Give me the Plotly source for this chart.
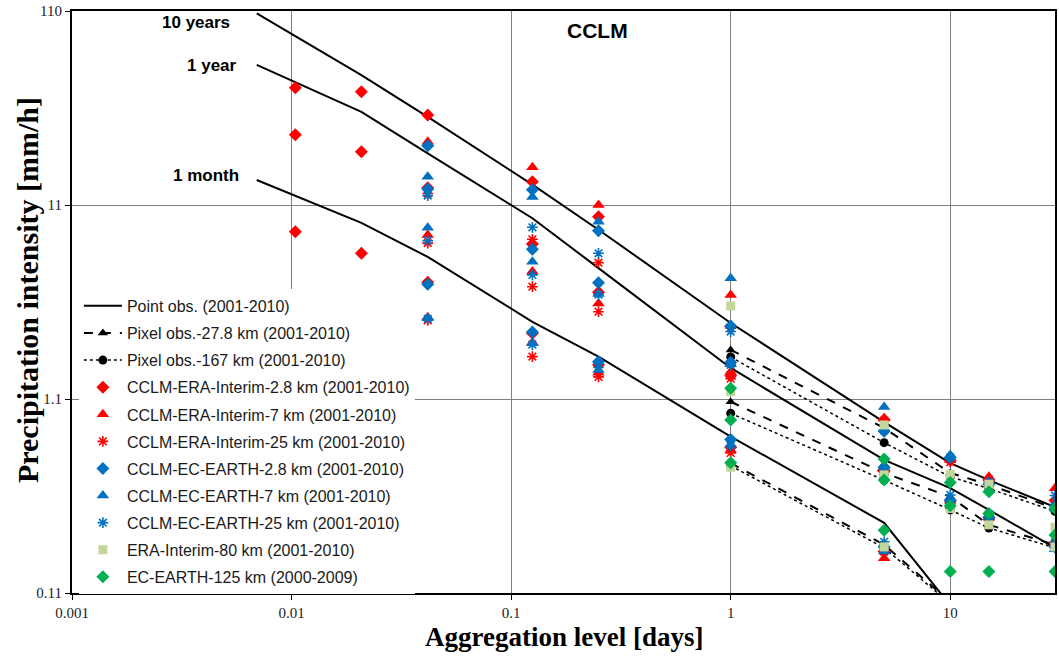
import plotly.graph_objects as go

# ---------------- data ----------------
x_point = [0.00694, 0.0208, 0.0417, 0.125, 0.25, 1, 5, 10, 15, 30]
point_10y = [107, 51.4, 31.3, 14.0, 8.2, 2.71, 0.836, 0.514, 0.42, 0.305]
point_1y = [58, 33.2, 20.3, 9.4, 5.2, 1.59, 0.534, 0.382, 0.295, 0.188]
point_1m = [14.8, 8.9, 5.94, 2.75, 1.82, 0.704, 0.253, 0.095, None, None]

x_pix = [1, 5, 10, 15, 30]
pix28_10y = [1.97, 0.78, 0.457, 0.398, 0.30]
pix28_1y = [1.065, 0.457, 0.345, 0.247, 0.195]
pix28_1m = [0.514, 0.195, 0.099, None, None]
pix167_10y = [1.81, 0.655, 0.437, 0.38, 0.29]
pix167_1y = [0.928, 0.42, 0.295, 0.238, 0.188]
pix167_1m = [0.498, 0.188, 0.097, None, None]

x_model = [0.0104, 0.0208, 0.0417, 0.125, 0.25, 1, 5, 10, 15, 30]
era28_10y = [44.3, 42.2, 32.0, 14.5, 9.58, 2.6, 0.86, 0.53, 0.42, 0.33]
era28_1y = [25.3, 20.7, 13.5, 6.92, 3.9, 1.45, 0.47, 0.33, 0.27, 0.20]
era28_1m = [8.0, 6.2, 4.4, 2.40, 1.65, 0.62, 0.18, None, None, None]

era7_10y = [None, None, 23.3, 17.2, 11.0, 3.78, 0.875, 0.535, 0.437, 0.381]
era7_1y = [None, None, 7.7, 4.99, 3.42, 1.52, 0.48, 0.33, 0.27, 0.20]
era7_1m = [None, None, 2.9, 2.15, 1.5, 0.60, 0.166, None, None, None]

era25_10y = [None, None, 12.6, 7.32, 5.55, 2.55, 0.85, 0.52, 0.42, 0.30]
era25_1y = [None, None, 7.0, 4.17, 3.10, 1.40, 0.46, 0.32, 0.26, 0.19]
era25_1m = [None, None, 2.8, 1.82, 1.43, 0.58, 0.18, None, None, None]

ec28_10y = [None, None, 22.2, 13.2, 8.11, 2.62, 0.75, 0.55, 0.40, 0.31]
ec28_1y = [None, None, 13.3, 6.5, 4.37, 1.70, 0.49, 0.33, 0.27, 0.19]
ec28_1m = [None, None, 4.3, 2.44, 1.71, 0.68, 0.19, None, None, None]

ec7_10y = [None, None, 15.4, 12.1, 9.02, 4.61, 1.00, 0.566, 0.41, 0.30]
ec7_1y = [None, None, 8.4, 5.61, 3.83, 1.66, 0.50, 0.34, 0.275, 0.185]
ec7_1m = [None, None, 2.87, 2.13, 1.55, 0.64, 0.18, None, None, None]

ec25_10y = [None, None, 12.3, 8.44, 6.2, 2.45, 0.76, 0.55, 0.41, 0.35]
ec25_1y = [None, None, 7.2, 4.8, 3.8, 1.65, 0.48, 0.352, 0.28, 0.20]
ec25_1m = [None, None, 2.85, 2.1, 1.6, 0.63, 0.202, None, None, None]

x_gcm = [1, 5, 10, 15, 30]
erai80_10y = [3.32, 0.808, 0.45, 0.40, 0.24]
erai80_1y = [1.20, 0.447, 0.30, 0.247, 0.19]
erai80_1m = [0.49, 0.19, None, None, None]

ecearth125_10y = [1.25, 0.54, 0.408, 0.366, 0.30]
ecearth125_1y = [0.857, 0.421, 0.31, 0.283, 0.219]
ecearth125_1m = [0.516, 0.232, 0.142, 0.142, 0.142]

RED = "#FF0000"
BLUE = "#0070C0"
GREEN = "#00B050"
SQ = "#C3D69B"


def joined(xs, series_list):
    xx, yy = [], []
    for i, s in enumerate(series_list):
        if i:
            xx.append(None)
            yy.append(None)
        xx += list(xs)
        yy += list(s)
    return xx, yy


fig = go.Figure()
lg = 0


def add(name, xs, series_list, mode, line=None, marker=None):
    global lg
    lg += 1
    xx, yy = joined(xs, series_list)
    fig.add_trace(go.Scatter(x=xx, y=yy, mode=mode, name=name, line=line,
                             marker=marker, legendgroup="g%d" % lg,
                             connectgaps=False, showlegend=True))


add("Point obs. (2001-2010)", x_point, [point_10y, point_1y, point_1m], "lines",
    line=dict(color="black", width=2))
add("Pixel obs.-27.8 km (2001-2010)", x_pix, [pix28_10y, pix28_1y, pix28_1m], "lines+markers",
    line=dict(color="black", width=2, dash="dash"),
    marker=dict(symbol="triangle-up", size=9, color="black"))
add("Pixel obs.-167 km (2001-2010)", x_pix, [pix167_10y, pix167_1y, pix167_1m], "lines+markers",
    line=dict(color="black", width=1.5, dash="dot"),
    marker=dict(symbol="circle", size=9, color="black"))


def add_markers(name, xs, series_list, marker):
    global lg
    lg += 1
    xx, yy = [], []
    for s in series_list:
        xx += list(xs)
        yy += list(s)
    fig.add_trace(go.Scatter(x=xx, y=yy, mode="markers", name=name, marker=marker,
                             legendgroup="g%d" % lg))


add_markers("CCLM-ERA-Interim-2.8 km (2001-2010)", x_model, [era28_10y, era28_1y, era28_1m],
            dict(symbol="diamond", size=10, color=RED))
add_markers("CCLM-ERA-Interim-7 km (2001-2010)", x_model, [era7_10y, era7_1y, era7_1m],
            dict(symbol="triangle-up", size=11, color=RED))
add_markers("CCLM-ERA-Interim-25 km (2001-2010)", x_model, [era25_10y, era25_1y, era25_1m],
            dict(symbol="asterisk-open", size=9, color=RED, line=dict(color=RED, width=1.6)))
add_markers("CCLM-EC-EARTH-2.8 km (2001-2010)", x_model, [ec28_10y, ec28_1y, ec28_1m],
            dict(symbol="diamond", size=10, color=BLUE))
add_markers("CCLM-EC-EARTH-7 km (2001-2010)", x_model, [ec7_10y, ec7_1y, ec7_1m],
            dict(symbol="triangle-up", size=11, color=BLUE))
add_markers("CCLM-EC-EARTH-25 km (2001-2010)", x_model, [ec25_10y, ec25_1y, ec25_1m],
            dict(symbol="asterisk-open", size=9, color=BLUE, line=dict(color=BLUE, width=1.6)))
add_markers("ERA-Interim-80 km (2001-2010)", x_gcm, [erai80_10y, erai80_1y, erai80_1m],
            dict(symbol="square", size=9, color=SQ))
add_markers("EC-EARTH-125 km (2000-2009)", x_gcm, [ecearth125_10y, ecearth125_1y, ecearth125_1m],
            dict(symbol="diamond", size=10, color=GREEN))

serif = "Liberation Serif, Times New Roman, serif"
sans = "Liberation Sans, Arial, sans-serif"

fig.update_layout(
    width=1059, height=660,
    margin=dict(l=72, r=2, t=11, b=67),
    paper_bgcolor="white", plot_bgcolor="white",
    showlegend=True,
    legend=dict(x=0.007, y=0.5224, xanchor="left", yanchor="top",
                bgcolor="white", borderwidth=0,
                font=dict(family=sans, size=16, color="#1a1a1a"),
                traceorder="grouped", tracegroupgap=3.3, itemwidth=38),
    xaxis=dict(type="log", range=[-3, 1.4771], tickvals=[0.001, 0.01, 0.1, 1, 10],
               ticktext=["0.001", "0.01", "0.1", "1", "10"],
               showgrid=True, gridcolor="#808080", gridwidth=1,
               showline=True, linecolor="black", linewidth=2, mirror=True,
               ticks="outside", ticklen=5, tickcolor="black",
               tickfont=dict(family=serif, size=15, color="#222"), zeroline=False),
    yaxis=dict(type="log", range=[-0.958607, 2.041393], tickvals=[0.11, 1.1, 11, 110],
               ticktext=["0.11", "1.1", "11", "110"],
               showgrid=True, gridcolor="#808080", gridwidth=1,
               showline=True, linecolor="black", linewidth=2, mirror=True,
               ticks="outside", ticklen=5, tickcolor="black",
               tickfont=dict(family=serif, size=15, color="#222"), zeroline=False),
)

annotations = [
    dict(text="<b>10 years</b>", x=232, y=22, xanchor="right"),
    dict(text="<b>1 year</b>", x=239, y=65, xanchor="right"),
    dict(text="<b>1 month</b>", x=241, y=175, xanchor="right"),
]
for a in annotations:
    fig.add_annotation(text=a["text"], xref="paper", yref="paper",
                       x=(a["x"] - 72) / 985, y=(593 - a["y"]) / 582,
                       xanchor=a["xanchor"], yanchor="middle", showarrow=False,
                       font=dict(family=sans, size=17, color="black"))
fig.add_annotation(text="<b>CCLM</b>", xref="paper", yref="paper",
                   x=(599 - 72) / 985, y=(593 - 31) / 582, xanchor="center", yanchor="middle",
                   showarrow=False, font=dict(family=sans, size=21, color="black"))
fig.add_annotation(text="<b>Aggregation level [days]</b>", xref="paper", yref="paper",
                   x=(565 - 72) / 985, y=(593 - 637) / 582, xanchor="center", yanchor="middle",
                   showarrow=False, font=dict(family=serif, size=27, color="black"))
fig.add_annotation(text="<b>Precipitation intensity [mm/h]</b>", xref="paper", yref="paper",
                   x=(27 - 72) / 985, y=(593 - 290) / 582, xanchor="center", yanchor="middle",
                   textangle=-90, showarrow=False,
                   font=dict(family=serif, size=30, color="black"))

fig.write_html("out.html")
